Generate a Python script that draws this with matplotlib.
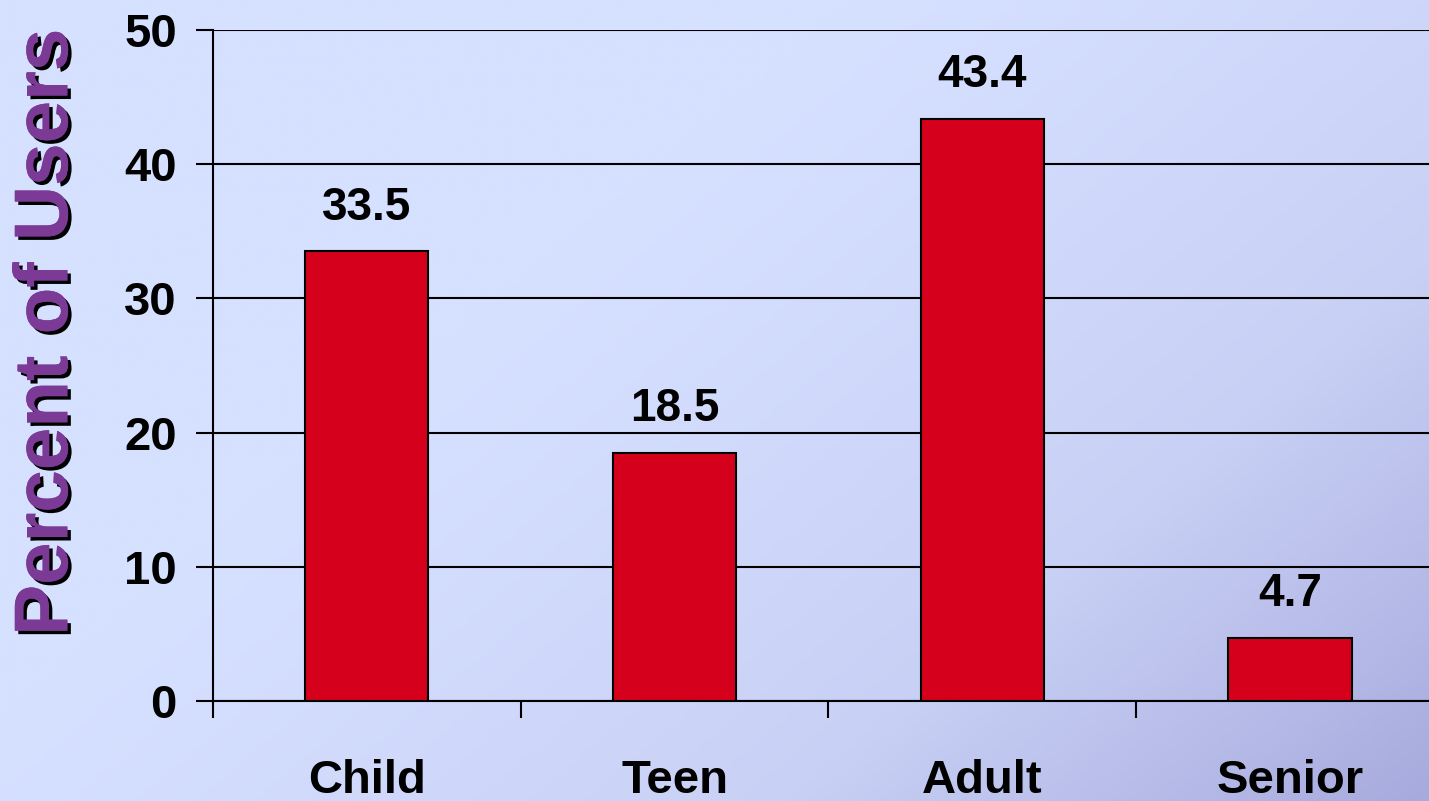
import numpy as np
import matplotlib
matplotlib.use("Agg")
import matplotlib.pyplot as plt
import matplotlib.patheffects as pe
from matplotlib.colors import LinearSegmentedColormap

plt.rcParams['font.family'] = ['Liberation Sans', 'DejaVu Sans']
plt.rcParams['font.weight'] = 'bold'

categories = ['Child', 'Teen', 'Adult', 'Senior']
percent_users = [33.5, 18.5, 43.4, 4.7]
y_ticks = [0, 10, 20, 30, 40, 50]

fig = plt.figure(figsize=(14.29, 8.01), dpi=100)

# diagonal background fade, light top-left to darker bottom-right
bg = fig.add_axes([0, 0, 1, 1], zorder=-10)
gx, gy = np.meshgrid(np.linspace(0, 1, 400), np.linspace(0, 1, 300))
t = np.clip((gx * 0.6 + gy * 0.4 - 0.35) / 0.65, 0, 1) ** 1.3
cmap = LinearSegmentedColormap.from_list('bg', ['#D6E0FF', '#C8D0F5', '#A7AADD'])
bg.imshow(t, cmap=cmap, aspect='auto', extent=[0, 1, 0, 1], origin='upper')
bg.axis('off')

ax = fig.add_axes([0.149, 0.1248, 0.8614, 0.8377])
ax.set_facecolor('none')

x = np.arange(len(categories))
bars = ax.bar(x, percent_users, width=0.4, color='#D5001C', edgecolor='black',
              linewidth=1.5, zorder=3)

for xi, v in zip(x, percent_users):
    ax.annotate(f'{v}', (xi, v), xytext=(0, 23), textcoords='offset points',
                ha='center', va='baseline', fontsize=33, fontweight='bold')

ax.set_xlim(-0.5, len(categories) - 0.5)
ax.set_ylim(0, 50)
ax.set_yticks(y_ticks)
ax.yaxis.grid(True, color='black', linewidth=1.5, zorder=1)
ax.set_axisbelow(True)

ax.set_xticks(x)
ax.set_xticklabels(categories)
ax.set_xticks(np.arange(len(categories) + 1) - 0.5, minor=True)
ax.tick_params(axis='x', which='major', length=0, pad=42, labelsize=34)
ax.tick_params(axis='x', which='minor', length=12, width=1.5, direction='out')
ax.tick_params(axis='y', length=12, width=1.5, pad=14, labelsize=34)
for lbl in ax.get_xticklabels() + ax.get_yticklabels():
    lbl.set_fontweight('bold')

for side in ['top', 'right']:
    ax.spines[side].set_visible(False)
ax.spines['left'].set_linewidth(1.5)
ax.spines['bottom'].set_linewidth(1.5)

fig.text(0.0335, 0.585, 'Percent of Users', rotation=90, ha='center', va='center',
         fontsize=55, fontweight='bold', color='#7B3A96',
         path_effects=[pe.withSimplePatchShadow(offset=(2.5, -2.5), shadow_rgbFace='black', alpha=1),
                       pe.Normal()])

fig.savefig('out.png', dpi=100)
